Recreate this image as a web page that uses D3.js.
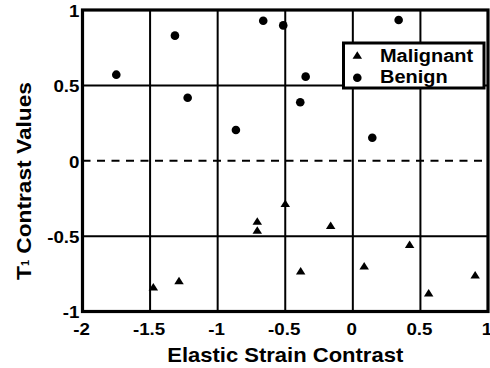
<!DOCTYPE html>
<html>
<head>
<meta charset="utf-8">
<script src="https://cdn.jsdelivr.net/npm/d3@7"></script>
<style>
  body { margin: 0; background: #fff; }
  text { font-family: "Liberation Sans", Arial, Helvetica, sans-serif; font-weight: bold; fill: #000; }
</style>
</head>
<body>
<svg id="chart" width="490" height="368"></svg>
<script>
// Elastic strain contrast vs T1 contrast values
const xTicks = [-2, -1.5, -1, -0.5, 0, 0.5, 1];
const yTicks = [-1, -0.5, 0, 0.5, 1];
const xTickLabels = ["-2", "-1.5", "-1", "-0.5", "0", "0.5", "1"];
const yTickLabels = ["-1", "-0.5", "0", "0.5", "1"];

const benignX = [-1.75, -1.316, -1.222, -0.865, -0.663, -0.515, -0.349, -0.389, 0.144, 0.339];
const benignY = [0.571, 0.83, 0.418, 0.204, 0.929, 0.898, 0.558, 0.388, 0.153, 0.934];

const malignantX = [-1.476, -1.286, -0.707, -0.707, -0.5, -0.164, -0.386, 0.084, 0.42, 0.561, 0.905];
const malignantY = [-0.835, -0.795, -0.399, -0.459, -0.282, -0.428, -0.729, -0.696, -0.554, -0.875, -0.757];

const seriesNames = ["Malignant", "Benign"];
const xTitle = "Elastic Strain Contrast";
const yTitleMain = "T";
const yTitleSub = "1";
const yTitleRest = " Contrast Values";

const svg = d3.select("#chart");
const plotLeft = 82.5, plotRight = 488, plotTop = 10, plotBottom = 311.5;

const x = d3.scaleLinear().domain([-2, 1]).range([plotLeft, plotRight]);
const y = d3.scaleLinear().domain([-1, 1]).range([plotBottom, plotTop]);

// stretch text horizontally along its own direction
function widen(sel, k) {
  sel.each(function () {
    const w = this.getComputedTextLength();
    d3.select(this).attr("textLength", w * k).attr("lengthAdjust", "spacingAndGlyphs");
  });
}

// grid lines
const grid = svg.append("g");
grid.append("g").selectAll("line")
  .data(xTicks.filter(v => v > -2 && v < 1))
  .join("line")
  .attr("x1", d => x(d)).attr("x2", d => x(d))
  .attr("y1", plotTop).attr("y2", plotBottom)
  .attr("stroke", "#000").attr("stroke-width", 2);
grid.append("g").selectAll("line")
  .data(yTicks.filter(v => v > -1 && v < 1))
  .join("line")
  .attr("x1", plotLeft).attr("x2", plotRight)
  .attr("y1", d => y(d)).attr("y2", d => y(d))
  .attr("stroke", "#000").attr("stroke-width", 2)
  .attr("stroke-dasharray", d => d === 0 ? "8,6.5" : null);

// frame
svg.append("rect")
  .attr("x", plotLeft).attr("y", plotTop)
  .attr("width", plotRight - plotLeft).attr("height", plotBottom - plotTop)
  .attr("fill", "none").attr("stroke", "#000").attr("stroke-width", 3.2);

// tick labels
svg.append("g").selectAll("text")
  .data(xTicks)
  .join("text")
  .attr("x", d => x(d) - 1)
  .attr("y", 335)
  .attr("text-anchor", "middle")
  .style("font-size", "16px")
  .text((d, i) => xTickLabels[i])
  .call(widen, 1.17);

svg.append("g").selectAll("text")
  .data(yTicks)
  .join("text")
  .attr("x", 79.5)
  .attr("y", d => y(d) + 6.8)
  .attr("text-anchor", "end")
  .style("font-size", "16px")
  .text((d, i) => yTickLabels[i])
  .call(widen, 1.17);

// axis titles
svg.append("text")
  .attr("x", (plotLeft + plotRight) / 2)
  .attr("y", 361.5)
  .attr("text-anchor", "middle")
  .style("font-size", "20.5px")
  .text(xTitle)
  .attr("textLength", 236)
  .attr("lengthAdjust", "spacingAndGlyphs");

const yt = svg.append("text")
  .attr("transform", "translate(31,181) rotate(-90)")
  .attr("text-anchor", "middle")
  .style("font-size", "21px")
  .attr("textLength", 198)
  .attr("lengthAdjust", "spacingAndGlyphs");
yt.append("tspan").text(yTitleMain);
yt.append("tspan").style("font-size", "10px").attr("dy", -2).text(yTitleSub);
yt.append("tspan").attr("dy", 2).text(yTitleRest);

// marker shapes
const triangle = {
  draw(ctx, size) {
    const w = 9.5, h = 7.5;
    ctx.moveTo(0, -h / 2);
    ctx.lineTo(w / 2, h / 2);
    ctx.lineTo(-w / 2, h / 2);
    ctx.closePath();
  }
};
const triPath = d3.symbol().type(triangle)();

// benign points
svg.append("g").selectAll("circle")
  .data(benignX.map((v, i) => [v, benignY[i]]))
  .join("circle")
  .attr("cx", d => x(d[0]))
  .attr("cy", d => y(d[1]))
  .attr("r", 4.3)
  .attr("fill", "#000");

// malignant points
svg.append("g").selectAll("path")
  .data(malignantX.map((v, i) => [v, malignantY[i]]))
  .join("path")
  .attr("d", triPath)
  .attr("transform", d => `translate(${x(d[0])},${y(d[1])})`)
  .attr("fill", "#000");

// legend
const lg = svg.append("g");
lg.append("rect")
  .attr("x", 343.5).attr("y", 43)
  .attr("width", 140.5).attr("height", 45)
  .attr("fill", "#fff").attr("stroke", "#000").attr("stroke-width", 3);
lg.append("path").attr("d", triPath)
  .attr("transform", "translate(357.3,55)").attr("fill", "#000");
lg.append("circle").attr("cx", 357.3).attr("cy", 77.7).attr("r", 4.3).attr("fill", "#000");
lg.selectAll("text")
  .data(seriesNames)
  .join("text")
  .attr("x", 380)
  .attr("y", (d, i) => i === 0 ? 61.7 : 82.7)
  .style("font-size", "17.5px")
  .text(d => d)
  .call(widen, 1.14);
</script>
</body>
</html>
